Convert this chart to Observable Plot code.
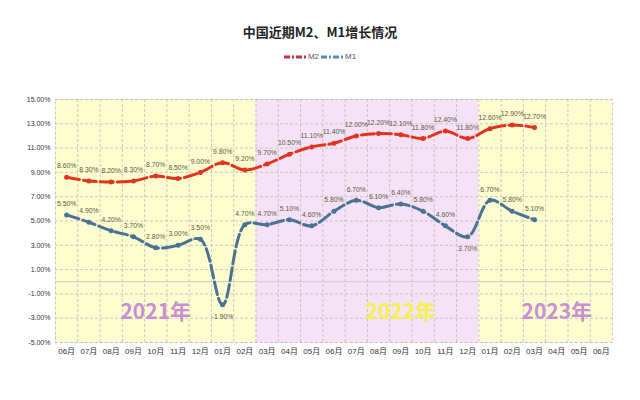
<!DOCTYPE html>
<html>
<head>
<meta charset="utf-8">
<script src="https://cdn.jsdelivr.net/npm/d3@7"></script>
<script src="https://cdn.jsdelivr.net/npm/@observablehq/plot@0.6"></script>
<style>
  body { margin: 0; background: #fff; font-family: "Liberation Sans", "Noto Sans CJK SC", sans-serif; }
  #wrap { width: 640px; height: 400px; overflow: hidden; }
  #title { margin-top: 22px; height: 16px; line-height: 16px; text-align: center; font: bold 13px "Noto Sans CJK SC", sans-serif; color: #222; }
  #legend { margin-top: 13px; height: 12px; line-height: 12px; text-align: center; font-size: 8px; color: #555; }
  #legend span { display: inline-flex; align-items: center; margin: 0 1px; }
  #legend svg { margin-right: 2px; }
</style>
</head>
<body>
<div id="wrap">
  <div id="title">中国近期M2、M1增长情况</div>
  <div id="legend"></div>
  <div id="chart"></div>
</div>
<script>
const months = ["06月","07月","08月","09月","10月","11月","12月","01月","02月","03月","04月","05月","06月","07月","08月","09月","10月","11月","12月","01月","02月","03月","04月","05月","06月"];
const m2 = [8.6, 8.3, 8.2, 8.3, 8.7, 8.5, 9.0, 9.8, 9.2, 9.7, 10.5, 11.1, 11.4, 12.0, 12.2, 12.1, 11.8, 12.4, 11.8, 12.6, 12.9, 12.7];
const m1 = [5.5, 4.9, 4.2, 3.7, 2.8, 3.0, 3.5, -1.9, 4.7, 4.7, 5.1, 4.6, 5.8, 6.7, 6.1, 6.4, 5.8, 4.6, 3.7, 6.7, 5.8, 5.1];
const m1LabelBelow = [7, 18];
const yTicks = [-5, -3, -1, 1, 3, 5, 7, 9, 11, 13, 15];
const yearNames = ["2021年", "2022年", "2023年"];
const yearFirst = [0, 9, 19];
const yearLast = [8, 18, 24];
const yearLabelAt = [4, 15, 22];
const yLabelAt = -2.5;

const C_M2 = "#e2341d", C_M1 = "#4a7294";
const bandFill = ["#fdfdd0", "#f6e2f7", "#fdfdd0"];
const yearColor = ["#c98fd2", "#f2f24a", "#c98fd2"];

const years = yearNames.map((name, i) => ({name, first: yearFirst[i], last: yearLast[i], at: yearLabelAt[i], fill: bandFill[i], color: yearColor[i]}));
const rows = [];
m2.forEach((v, i) => rows.push({series: "M2", i, v, below: false}));
m1.forEach((v, i) => rows.push({series: "M1", i, v, below: m1LabelBelow.includes(i)}));
const pct = v => v.toFixed(2) + "%";

// legend
const legend = document.getElementById("legend");
[["M2", "#c8323a"], ["M1", "#5b8ab0"]].forEach(([name, col]) => {
  const s = document.createElement("span");
  s.innerHTML = `<svg width="22" height="6"><line x1="0" y1="3" x2="22" y2="3" stroke="${col}" stroke-width="3" stroke-dasharray="6,2,2,2"/></svg>${name}`;
  legend.appendChild(s);
});

const dash = {stroke: "#bdbdbd", strokeDasharray: "3,2", strokeWidth: 0.8};
const labelFont = "'Liberation Sans Narrow','Liberation Sans',sans-serif";
const chart = Plot.plot({
  width: 640, height: 337,
  marginTop: 36, marginBottom: 58, marginLeft: 55, marginRight: 28,
  style: {fontFamily: "'Liberation Sans','Noto Sans CJK SC',sans-serif", background: "transparent"},
  x: {domain: [-0.5, months.length - 0.5], axis: null},
  y: {domain: [yTicks[0], yTicks[yTicks.length - 1]], axis: null},
  color: {type: "identity"},
  marks: [
    Plot.rect(years, {x1: d => d.first - 0.5, x2: d => d.last + 0.5, y1: yTicks[0], y2: yTicks[yTicks.length - 1], fill: d => d.fill}),
    Plot.ruleY(yTicks, dash),
    Plot.ruleX(d3.range(1, months.length).map(i => i - 0.5), dash),
    Plot.ruleY([0], {stroke: "#c8c8c8", strokeWidth: 1}),
    Plot.frame(dash),
    Plot.axisY({ticks: yTicks, tickSize: 0, tickPadding: 5, tickFormat: pct, fontSize: 7, fill: "#333", label: null}),
    Plot.axisX({ticks: d3.range(months.length), tickSize: 0, tickPadding: 6, tickFormat: i => months[i], fontSize: 8, fill: "#333", label: null}),
    Plot.text(years, {x: "at", y: () => yLabelAt, text: "name", fill: d => d.color, fontSize: 21, fontWeight: "bold", fontFamily: "'Noto Sans CJK SC',sans-serif"}),
    Plot.line(rows, {x: "i", y: "v", z: "series", stroke: d => d.series === "M2" ? C_M2 : C_M1, strokeWidth: 3, strokeDasharray: "13,4", curve: "catmull-rom"}),
    Plot.dot(rows, {x: "i", y: "v", r: 2.5, fill: d => d.series === "M2" ? C_M2 : C_M1}),
    Plot.text(rows.filter(d => !d.below), {x: "i", y: "v", text: d => pct(d.v), dy: -11, fontSize: 6.8, fill: "#5a5a44", fontFamily: labelFont}),
    Plot.text(rows.filter(d => d.below), {x: "i", y: "v", text: d => pct(d.v), dy: 12, fontSize: 6.8, fill: "#5a5a44", fontFamily: labelFont})
  ]
});
document.getElementById("chart").appendChild(chart);
</script>
</body>
</html>
